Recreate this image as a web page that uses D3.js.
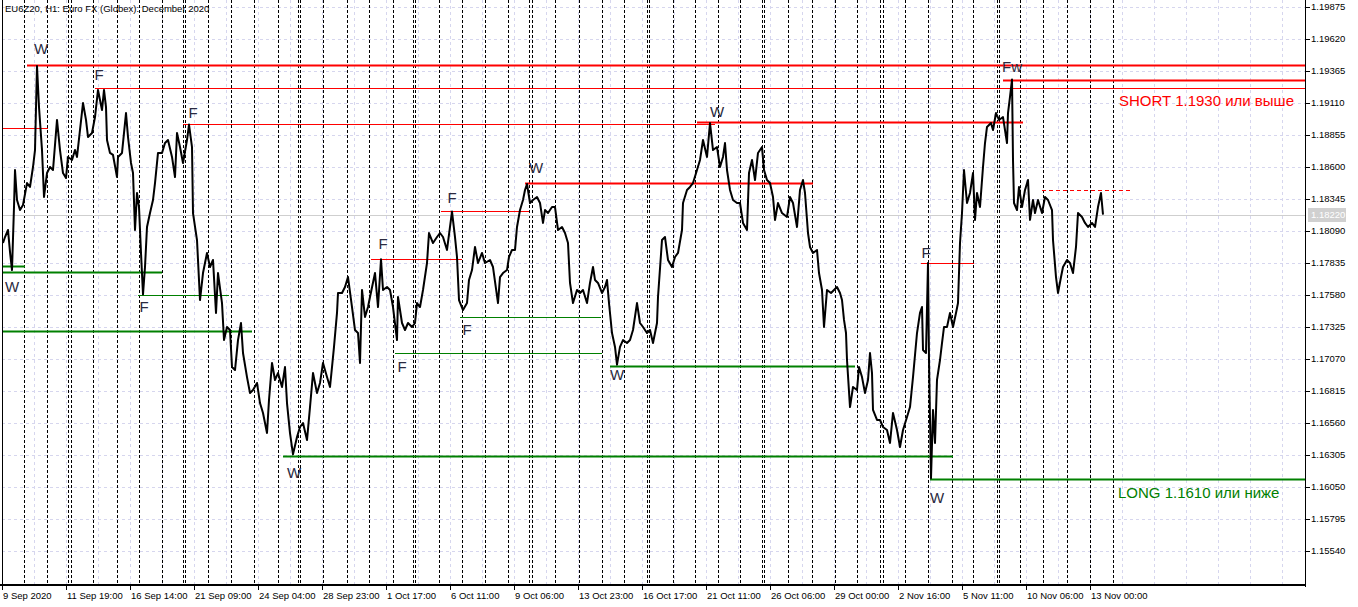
<!DOCTYPE html>
<html>
<head>
<meta charset="utf-8">
<script src="https://cdn.jsdelivr.net/npm/d3@7/dist/d3.min.js"></script>
<style>
body { margin: 0; background: #fff; overflow: hidden; }
text { font-family: "Liberation Sans", Arial, sans-serif; }
</style>
</head>
<body>
<div id="chart"></div>
<script>
// EU6Z20 H1 closes, hour index since 9 Sep 2020
var hourIdx = [1,3,6,8,10,12,13,15,18,21,25,28,31,33,35,37,40,42,45,48,51,55,58,61,64,66,70,73,75,78,81,84,86,90,93,96,100,102,104,105,108,111,115,116,120,124,126,129,131,133,135,137,139,141,143,145,148,151,153,156,160,163,166,170,173,175,178,181,185,187,190,191,195,198,201,205,208,211,214,216,220,222,225,228,230,233,236,239,241,245,248,251,255,258,261,265,267,270,273,276,280,283,285,288,291,295,298,301,305,308,311,315,318,321,325,328,330,332,335,336,340,343,346,350,353,356,358,360,363,366,368,373,376,379,381,385,388,391,395,396,400,403,406,410,413,415,418,421,425,427,431,435,438,441,445,448,450,453,455,457,461,465,467,470,473,476,480,483,488,491,496,498,501,505,507,510,513,515,518,521,523,525,528,531,535,538,541,543,546,550,553,556,560,563,566,568,571,575,578,581,585,588,591,593,596,600,603,605,607,610,613,615,618,621,625,628,631,635,638,641,645,648,651,655,656,660,663,666,670,673,676,680,681,685,688,691,695,698,701,705,708,711,715,718,721,723,725,728,731,735,738,741,745,747,750,753,756,760,762,765,768,771,773,776,780,785,788,791,795,798,801,803,806,808,811,815,817,820,822,825,829,832,835,838,840,842,844,845,848,851,855,857,860,863,866,868,870,871,875,878,881,885,888,891,895,898,901,905,908,911,915,918,920,921,924,926,927,929,931,933,935,938,940,942,945,948,951,954,956,958,960,962,965,968,971,973,975,978,981,983,985,989,991,994,997,1001,1003,1005,1006,1008,1010,1011,1012,1015,1017,1020,1023,1026,1028,1031,1033,1036,1040,1043,1046,1050,1051,1054,1056,1059,1061,1065,1068,1071,1074,1076,1080,1083,1086,1090,1093,1096,1099,1101];
var closes = [1.17994,1.18042,1.18098,1.17923,1.17779,1.18281,1.18576,1.18337,1.18257,1.18297,1.18472,1.18441,1.18600,1.18735,1.19405,1.19078,1.18735,1.18361,1.18552,1.18600,1.18576,1.18975,1.18735,1.18552,1.18512,1.18680,1.18656,1.18735,1.18680,1.18895,1.19110,1.18975,1.18839,1.18871,1.18998,1.19214,1.19054,1.19214,1.19078,1.18815,1.18712,1.18696,1.18520,1.18680,1.18712,1.19030,1.18839,1.18632,1.18552,1.18098,1.18393,1.18281,1.17915,1.17585,1.17803,1.18122,1.18233,1.18337,1.18472,1.18712,1.18712,1.18791,1.18815,1.18680,1.18520,1.18871,1.18759,1.18632,1.18815,1.18938,1.18759,1.18233,1.18018,1.17540,1.17755,1.17915,1.17803,1.17859,1.17437,1.17755,1.17516,1.17221,1.17325,1.17301,1.17006,1.16982,1.17221,1.17357,1.17118,1.16926,1.16799,1.16823,1.16879,1.16719,1.16640,1.16480,1.16743,1.17038,1.16903,1.16958,1.16847,1.17006,1.16719,1.16480,1.16310,1.16448,1.16528,1.16560,1.16424,1.16687,1.16958,1.16799,1.16879,1.17038,1.16926,1.16847,1.17006,1.17166,1.17437,1.17596,1.17596,1.17644,1.17723,1.17484,1.17301,1.17277,1.17038,1.17620,1.17405,1.17484,1.17564,1.17755,1.17484,1.17865,1.17620,1.17644,1.17620,1.17484,1.17221,1.17564,1.17357,1.17301,1.17357,1.17325,1.17357,1.17516,1.17484,1.17620,1.17835,1.18074,1.17994,1.18042,1.18074,1.18042,1.17939,1.18122,1.18245,1.18042,1.17883,1.17540,1.17460,1.17516,1.17700,1.17779,1.17963,1.17835,1.17915,1.17835,1.17859,1.17803,1.17516,1.17723,1.17755,1.17779,1.17883,1.17939,1.17939,1.18122,1.18257,1.18337,1.18417,1.18465,1.18313,1.18337,1.18361,1.18313,1.18154,1.18257,1.18233,1.18281,1.18281,1.18098,1.18122,1.18074,1.17994,1.17676,1.17516,1.17620,1.17596,1.17620,1.17516,1.17676,1.17803,1.17700,1.17676,1.17596,1.17644,1.17700,1.17516,1.17277,1.17166,1.17025,1.17166,1.17221,1.17197,1.17221,1.17301,1.17516,1.17357,1.17325,1.17277,1.17301,1.17197,1.17357,1.17564,1.18018,1.18042,1.17859,1.17803,1.17883,1.17915,1.18098,1.18313,1.18417,1.18441,1.18472,1.18576,1.18656,1.18815,1.18680,1.18950,1.18735,1.18759,1.18600,1.18680,1.18791,1.18576,1.18417,1.18337,1.18313,1.18313,1.18154,1.18098,1.18552,1.18656,1.18496,1.18712,1.18759,1.18576,1.18496,1.18472,1.18361,1.18178,1.18313,1.18233,1.18202,1.18361,1.18313,1.18122,1.18417,1.18496,1.18393,1.18074,1.17963,1.17915,1.17939,1.17755,1.17620,1.17325,1.17620,1.17596,1.17620,1.17644,1.17596,1.17540,1.17381,1.17277,1.17062,1.16687,1.16847,1.16823,1.17006,1.16926,1.16799,1.16903,1.17118,1.16958,1.16664,1.16584,1.16584,1.16528,1.16504,1.16401,1.16640,1.16504,1.16369,1.16504,1.16608,1.16687,1.16926,1.17277,1.17437,1.17484,1.17142,1.17118,1.17835,1.17062,1.16120,1.16664,1.16401,1.16903,1.17062,1.17197,1.17325,1.17325,1.17437,1.17325,1.17437,1.17516,1.17994,1.18233,1.18576,1.18313,1.18393,1.18552,1.18178,1.18393,1.18281,1.18600,1.18791,1.18919,1.18951,1.18895,1.19030,1.18975,1.18998,1.18895,1.18791,1.19030,1.19158,1.19297,1.18656,1.18313,1.18257,1.18441,1.18281,1.18417,1.18496,1.18178,1.18337,1.18233,1.18337,1.18233,1.18361,1.18337,1.18257,1.18018,1.17723,1.17596,1.17723,1.17803,1.17859,1.17835,1.17755,1.17963,1.18233,1.18202,1.18154,1.18122,1.18154,1.18122,1.18281,1.18393,1.18220];
var lastPrice = 1.18220;

// day separators (hour index of each new session)
var sessionStarts = [22,45,66,69,91,115,137,160,181,183,206,229,252,276,296,298,321,345,367,391,411,413,437,460,483,506,527,530,553,577,600,622,645,647,671,693,716,738,760,762,786,810,833,855,878,881,903,926,950,971,995,997,1018,1041,1065,1088,1111];

// axis labels
var yTicks = [1.19875,1.19620,1.19365,1.19110,1.18855,1.18600,1.18345,1.18090,1.17835,1.17580,1.17325,1.17070,1.16815,1.16560,1.16305,1.16050,1.15795,1.15540];
var xLabels = ["9 Sep 2020","11 Sep 19:00","16 Sep 14:00","21 Sep 09:00","24 Sep 04:00","28 Sep 23:00","1 Oct 17:00","6 Oct 11:00","9 Oct 06:00","13 Oct 23:00","16 Oct 17:00","21 Oct 11:00","26 Oct 06:00","29 Oct 00:00","2 Nov 16:00","5 Nov 11:00","10 Nov 06:00","13 Nov 00:00"];
var xLabelStep = 64;

// levels: price, from, to (-1 = to the right edge), side, strength
var levelPrice = [1.19410,1.19229,1.19297,1.18911,1.18943,1.18959,1.18470,1.18250,1.17867,1.17835,1.18420,
                  1.17811,1.17767,1.17580,1.17296,1.17405,1.17118,1.17014,1.16301,1.16114];
var levelFrom  = [25,93,1001,0,181,695,523,439,369,919,1040, 0,0,136,0,458,393,608,281,928];
var levelTo    = [-1,-1,-1,46,713,1021,811,527,460,972,1128, 23,160,227,250,599,600,853,951,-1];
var levelSide  = ["short","short","short","short","short","short","short","short","short","short","short",
                  "long","long","long","long","long","long","long","long","long"];
var levelKind  = ["major","minor","major","minor","minor","major","major","minor","minor","minor","pending",
                  "major","major","minor","major","minor","minor","major","major","major"];

// wave marks
var markText  = ["W","F","F","W","F","W","F","F","F","F","W","W","W","F","W","Fw"];
var markHour  = [39,97,191,10,142,292,381,400,465,450,534,615,715,924,935,1010];
var markPrice = [1.19540,1.19333,1.19030,1.17644,1.17484,1.16161,1.17986,1.17006,1.17301,1.18353,1.18592,1.16942,1.19038,1.17915,1.15962,1.19397];

var noteText  = ["SHORT 1.1930 или выше","LONG 1.1610 или ниже"];
var noteHour  = [1117,1116];
var notePrice = [1.19126,1.16002];
var noteSide  = ["short","long"];

var width = 1358, height = 607;
var plotLeft = 2, plotRight = 1305, plotTop = 0, plotBottom = 585;

var svg = d3.select("#chart").append("svg")
.attr("width", width)
.attr("height", height)

var x = d3.scaleLinear().domain([0, plotRight - plotLeft]).range([plotLeft, plotRight]);
var y = d3.scaleLinear().domain([1.15540, 1.19875]).range([551, 7]);

var sideColor = { short: "#ff0000", long: "#008000" };

svg.append("clipPath").attr("id", "plotclip")
.append("rect").attr("x", plotLeft).attr("y", plotTop).attr("width", plotRight - plotLeft).attr("height", plotBottom - plotTop)

var plot = svg.append("g").attr("clip-path", "url(#plotclip)")

// grid
plot.selectAll(".hgrid")
.data(yTicks)
.join("line")
.attr("class", "hgrid")
.attr("x1", plotLeft).attr("x2", plotRight)
.attr("y1", function (d) { return Math.round(y(d)) + 0.5 })
.attr("y2", function (d) { return Math.round(y(d)) + 0.5 })
.attr("stroke", "#d6d6ee")
.attr("stroke-dasharray", "3,3")

plot.selectAll(".vgrid")
.data(d3.range(0, plotRight - plotLeft, xLabelStep / 2))
.join("line")
.attr("class", "vgrid")
.attr("x1", function (d) { return Math.round(x(d)) + 0.5 })
.attr("x2", function (d) { return Math.round(x(d)) + 0.5 })
.attr("y1", plotTop).attr("y2", plotBottom)
.attr("stroke", "#d6d6ee")
.attr("stroke-dasharray", "3,3")

// session separators
plot.selectAll(".sep")
.data(sessionStarts)
.join("line")
.attr("class", "sep")
.attr("x1", function (d) { return Math.round(x(d)) + 0.5 })
.attr("x2", function (d) { return Math.round(x(d)) + 0.5 })
.attr("y1", plotTop).attr("y2", plotBottom)
.attr("stroke", "#000")
.attr("stroke-dasharray", "3,2")

// bid line
plot.append("line")
.attr("x1", plotLeft).attr("x2", plotRight)
.attr("y1", Math.round(y(lastPrice)) + 0.5).attr("y2", Math.round(y(lastPrice)) + 0.5)
.attr("stroke", "#cfcfcf")

// levels
plot.selectAll(".level")
.data(levelPrice)
.join("line")
.attr("class", "level")
.attr("x1", function (d, i) { return x(levelFrom[i]) })
.attr("x2", function (d, i) { return levelTo[i] < 0 ? plotRight : x(levelTo[i]) })
.attr("y1", function (d) { return Math.round(y(d)) + 0.5 })
.attr("y2", function (d) { return Math.round(y(d)) + 0.5 })
.attr("stroke", function (d, i) { return sideColor[levelSide[i]] })
.attr("stroke-width", function (d, i) { return levelKind[i] === "major" ? 2 : 1 })
.attr("stroke-dasharray", function (d, i) { return levelKind[i] === "pending" ? "4,3" : null })

// price
var series = hourIdx.map(function (h, i) { return [h, closes[i]] })
plot.append("path")
.datum(series)
.attr("d", d3.line()
    .x(function (d) { return x(d[0]) })
    .y(function (d) { return y(d[1]) }))
.attr("fill", "none")
.attr("stroke", "#000")
.attr("stroke-width", 2)
.attr("stroke-linejoin", "round")

// wave marks
plot.selectAll(".mark")
.data(markText)
.join("text")
.attr("class", "mark")
.attr("x", function (d, i) { return x(markHour[i]) })
.attr("y", function (d, i) { return y(markPrice[i]) })
.attr("dy", "0.36em")
.attr("text-anchor", "middle")
.attr("font-size", 15)
.attr("fill", "#2a2a40")
.text(function (d) { return d })

plot.selectAll(".note")
.data(noteText)
.join("text")
.attr("class", "note")
.attr("x", function (d, i) { return x(noteHour[i]) })
.attr("y", function (d, i) { return y(notePrice[i]) })
.attr("dy", "0.36em")
.attr("font-size", 15)
.attr("fill", function (d, i) { return sideColor[noteSide[i]] })
.text(function (d) { return d })

// frame
svg.append("line").attr("x1", plotLeft + 0.5).attr("x2", plotLeft + 0.5).attr("y1", plotTop).attr("y2", plotBottom).attr("stroke", "#000")
svg.append("line").attr("x1", plotRight + 0.5).attr("x2", plotRight + 0.5).attr("y1", plotTop).attr("y2", plotBottom + 2).attr("stroke", "#000")
svg.append("line").attr("x1", 0).attr("x2", plotRight + 1).attr("y1", plotBottom).attr("y2", plotBottom).attr("stroke", "#000").attr("stroke-width", 2)

// right axis
svg.selectAll(".ytick")
.data(yTicks)
.join("line")
.attr("class", "ytick")
.attr("x1", plotRight).attr("x2", plotRight + 5)
.attr("y1", function (d) { return Math.round(y(d)) + 0.5 })
.attr("y2", function (d) { return Math.round(y(d)) + 0.5 })
.attr("stroke", "#000")

svg.selectAll(".ylab")
.data(yTicks)
.join("text")
.attr("class", "ylab")
.attr("x", plotRight + 6)
.attr("y", function (d) { return y(d) })
.attr("dy", "0.36em")
.attr("font-size", 9.5)
.text(function (d) { return d3.format(".5f")(d) })

// last price tag
svg.append("rect")
.attr("x", plotRight + 3).attr("y", Math.round(y(lastPrice)) - 7)
.attr("width", 38).attr("height", 14)
.attr("fill", "#d0d0d0")
svg.append("text")
.attr("x", plotRight + 6).attr("y", y(lastPrice))
.attr("dy", "0.36em")
.attr("font-size", 9.5)
.attr("fill", "#fff")
.text(d3.format(".5f")(lastPrice))

// bottom axis
svg.selectAll(".xtick")
.data(xLabels)
.join("line")
.attr("class", "xtick")
.attr("x1", function (d, i) { return Math.round(x(i * xLabelStep)) + 0.5 })
.attr("x2", function (d, i) { return Math.round(x(i * xLabelStep)) + 0.5 })
.attr("y1", plotBottom).attr("y2", plotBottom + 5)
.attr("stroke", "#000")

svg.selectAll(".xlab")
.data(xLabels)
.join("text")
.attr("class", "xlab")
.attr("x", function (d, i) { return x(i * xLabelStep) + 1 })
.attr("y", plotBottom + 14)
.attr("font-size", 9.5)
.text(function (d) { return d })

// title
svg.append("text")
.attr("x", 5).attr("y", 12)
.attr("font-size", 9.5)
.text("EU6Z20, H1:  Euro FX (Globex): December 2020")
</script>
</body>
</html>
